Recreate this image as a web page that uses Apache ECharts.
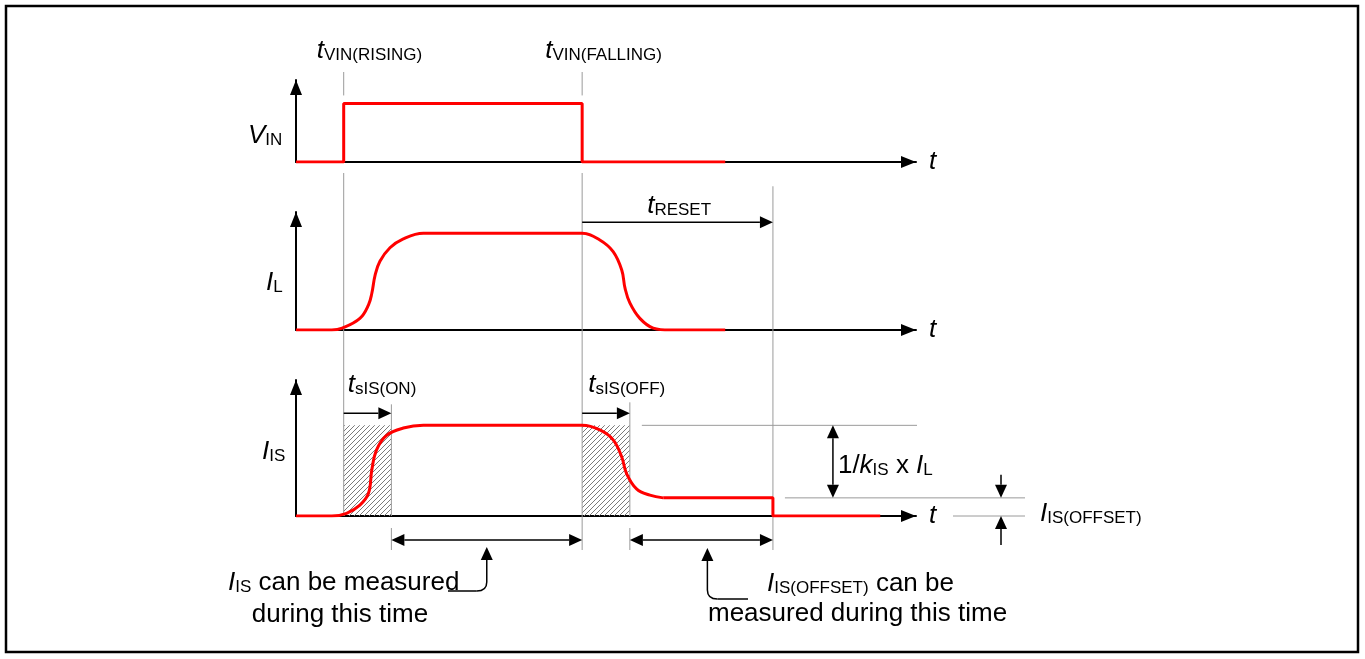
<!DOCTYPE html>
<html>
<head>
<meta charset="utf-8">
<script src="https://cdn.jsdelivr.net/npm/echarts@6/dist/echarts.min.js"></script>
<style>
  html, body { margin: 0; padding: 0; background: #fff; }
  #chart { width: 1365px; height: 659px; }
</style>
</head>
<body>
<div id="chart"></div>
<script>
// Time is in arbitrary units, levels are normalised so that the on-state = 1.
const T_RISE = 10;        // t VIN(RISING)
const T_FALL = 60;        // t VIN(FALLING)
const T_SIS_ON = 20;      // end of t sIS(ON)
const T_SIS_OFF = 70;     // end of t sIS(OFF)
const T_RESET_END = 100;  // end of t RESET
const OFFSET_LEVEL = 0.2; // I IS(OFFSET)

// V IN : input pulse
const vinTime  = [0, 10, 10, 60, 60, 90];
const vinLevel = [0, 0, 1, 1, 0, 0];

// I L : load current
const ilTime  = [0, 7.5, 9.7, 13.4, 15.2, 15.9, 16.6, 17.6, 19.7, 22.4, 26.7, 60, 63.7, 66.5, 68.3, 69.0, 70.0, 72.1, 74.9, 78.4, 90];
const ilLevel = [0, 0, 0.02, 0.12, 0.26, 0.38, 0.57, 0.71, 0.85, 0.94, 1, 1, 0.93, 0.81, 0.62, 0.43, 0.28, 0.12, 0.02, 0, 0];

// I IS : sense current (transition part)
const isTime  = [0, 7.5, 10.6, 13.4, 15.2, 15.9, 16.9, 19.0, 22.5, 26.7, 60, 63.7, 66.5, 68.3, 69.3, 71.4, 74.2, 77.0];
const isLevel = [0, 0, 0.03, 0.12, 0.25, 0.51, 0.73, 0.89, 0.97, 1, 1, 0.95, 0.84, 0.65, 0.47, 0.30, 0.23, 0.2];

// I IS : offset plateau and reset
const isTailTime  = [77.0, 100, 100, 122.5];
const isTailLevel = [0.2, 0.2, 0, 0];

const zip = (a, b) => a.map((v, i) => [v, b[i]]);

const FONT = '"Liberation Sans", Arial, sans-serif';
const RED = '#ff0000';
const BLACK = '#000000';
const GRAY = '#9a9a9a';

// diagonal hatch tile
const hatch = document.createElement('canvas');
hatch.width = 5; hatch.height = 5;
(function () {
  const c = hatch.getContext('2d');
  c.strokeStyle = '#7a7a7a';
  c.lineWidth = 1;
  c.beginPath();
  c.moveTo(-1, 6); c.lineTo(6, -1);
  c.moveTo(-1, 1); c.lineTo(1, -1);
  c.moveTo(4, 6); c.lineTo(6, 4);
  c.stroke();
})();

function xAx(i) {
  return {
    type: 'value', gridIndex: i, min: 0, max: 130,
    axisLine: { show: true, onZero: false, symbol: ['none', 'triangle'], symbolSize: [12, 15], symbolOffset: [0, -7.5],
      lineStyle: { color: BLACK, width: 2 } },
    axisTick: { show: false }, axisLabel: { show: false }, splitLine: { show: false },
    name: 't', nameLocation: 'end', nameGap: 13,
    nameTextStyle: { fontFamily: FONT, fontStyle: 'italic', fontSize: 26, color: BLACK }
  };
}
function yAx(i, max) {
  return {
    type: 'value', gridIndex: i, min: 0, max: max,
    axisLine: { show: true, onZero: false, symbol: ['none', 'triangle'], symbolSize: [12, 15], symbolOffset: [0, -7.5],
      lineStyle: { color: BLACK, width: 2 } },
    axisTick: { show: false }, axisLabel: { show: false }, splitLine: { show: false }
  };
}
function wave(i, data, smooth, extra) {
  return Object.assign({
    type: 'line', xAxisIndex: i, yAxisIndex: i, data: data, symbol: 'none', smooth: smooth,
    lineStyle: { color: RED, width: 3 }, z: 3, silent: true
  }, extra || {});
}

const chart = echarts.init(document.getElementById('chart'), null, { renderer: 'canvas' });
chart.setOption({
  animation: false,
  backgroundColor: '#fff',
  grid: [
    { left: 296, width: 620, top: 80, height: 82 },
    { left: 296, width: 620, top: 212, height: 118 },
    { left: 296, width: 620, top: 380, height: 136 }
  ],
  xAxis: [xAx(0), xAx(1), xAx(2)],
  yAxis: [yAx(0, 1.4), yAx(1, 1.22), yAx(2, 1.5)],
  series: [
    wave(0, zip(vinTime, vinLevel), false),
    wave(1, zip(ilTime, ilLevel), 0.4),
    wave(2, zip(isTime, isLevel), 0.4, {
      markArea: {
        silent: true,
        itemStyle: { color: { image: hatch, repeat: 'repeat' }, borderWidth: 0 },
        data: [
          [{ coord: [T_RISE, 0] }, { coord: [T_SIS_ON, 1] }],
          [{ coord: [T_FALL, 0] }, { coord: [T_SIS_OFF, 1] }]
        ]
      }
    }),
    wave(2, zip(isTailTime, isTailLevel), false)
  ]
});

// ---- annotations, placed from the axes' own scales ----
const px = t => chart.convertToPixel({ gridIndex: 0 }, [t, 0])[0];
const py = (g, v) => chart.convertToPixel({ gridIndex: g }, [0, v])[1];

const xRise = px(T_RISE), xFall = px(T_FALL), xOn = px(T_SIS_ON), xOff = px(T_SIS_OFF), xReset = px(T_RESET_END);
const yBase1 = py(0, 0), yHigh1 = py(0, 1);
const yBase2 = py(1, 0), yTop2 = py(1, 1);
const yBase3 = py(2, 0), yTop3 = py(2, 1), yOff = py(2, OFFSET_LEVEL);

const G = [];
function seg(x1, y1, x2, y2, color, w, z) {
  G.push({ type: 'line', silent: true, z: z || 1, shape: { x1: x1, y1: y1, x2: x2, y2: y2 },
    style: { stroke: color, lineWidth: w } });
}
const AL = 13, AW = 6;
function head(x, y, dir) {
  let p;
  if (dir === 'r') p = [[x, y], [x - AL, y - AW], [x - AL, y + AW]];
  else if (dir === 'l') p = [[x, y], [x + AL, y - AW], [x + AL, y + AW]];
  else if (dir === 'u') p = [[x, y], [x - AW, y + AL], [x + AW, y + AL]];
  else p = [[x, y], [x - AW, y - AL], [x + AW, y - AL]];
  G.push({ type: 'polygon', silent: true, z: 6, shape: { points: p }, style: { fill: BLACK } });
}

// gray guide lines
const yTopGuide = yBase1 - 90, yGap = yHigh1 - 8, yBelow1 = yBase1 + 11, yDimLow = yBase3 + 34;
seg(xRise, yTopGuide, xRise, yGap, GRAY, 1);
seg(xRise, yBelow1, xRise, yBase3, GRAY, 1);
seg(xFall, yTopGuide, xFall, yGap, GRAY, 1);
seg(xFall, yBelow1, xFall, yDimLow, GRAY, 1);
seg(xReset, yTop2 - 47, xReset, yDimLow, GRAY, 1);
seg(xOn, yTop3 - 21, xOn, yBase3, GRAY, 1);
seg(xOn, yBase3 + 12, xOn, yDimLow, GRAY, 1);
seg(xOff, yTop3 - 23, xOff, yBase3, GRAY, 1);
seg(xOff, yBase3 + 12, xOff, yDimLow, GRAY, 1);
seg(xOff + 12, yTop3, 917, yTop3, GRAY, 1);
seg(xReset + 12, yOff, 1025, yOff, GRAY, 1);
seg(953, yBase3, 1025, yBase3, GRAY, 1);

// timing arrows
const yReset = yTop2 - 11;
seg(xFall, yReset, xReset - AL, yReset, BLACK, 1.5, 5); head(xReset, yReset, 'r');
const ySis = yTop3 - 12;
seg(xRise, ySis, xOn - AL, ySis, BLACK, 1.5, 5); head(xOn, ySis, 'r');
seg(xFall, ySis, xOff - AL, ySis, BLACK, 1.5, 5); head(xOff, ySis, 'r');
const yMeas = yBase3 + 24;
seg(xOn + AL, yMeas, xFall - AL, yMeas, BLACK, 1.5, 5); head(xOn, yMeas, 'l'); head(xFall, yMeas, 'r');
seg(xOff + AL, yMeas, xReset - AL, yMeas, BLACK, 1.5, 5); head(xOff, yMeas, 'l'); head(xReset, yMeas, 'r');

// 1/kIS x IL span
const xK = xReset + 60;
seg(xK, yTop3 + AL, xK, yOff - AL, BLACK, 1.5, 5); head(xK, yTop3, 'u'); head(xK, yOff, 'd');

// offset span arrows
const xO = 1001;
seg(xO, yOff - 23, xO, yOff - AL, BLACK, 1.5, 5); head(xO, yOff, 'd');
seg(xO, yBase3 + 29, xO, yBase3 + AL, BLACK, 1.5, 5); head(xO, yBase3, 'u');

// pointer hooks
function hook(x, tipY, bendY, dirX, endX) {
  head(x, tipY, 'u');
  seg(x, tipY + AL, x, bendY - 9, BLACK, 1.5, 5);
  G.push({ type: 'bezierCurve', silent: true, z: 5,
    shape: { x1: x, y1: bendY - 9, x2: x + dirX * 10, y2: bendY, cpx1: x, cpy1: bendY },
    style: { stroke: BLACK, lineWidth: 1.5, fill: null } });
  seg(x + dirX * 10, bendY, endX, bendY, BLACK, 1.5, 5);
}
hook((xOn + xFall) / 2, yMeas + 7, yMeas + 51, -1, 448);
hook((xOff + xReset) / 2 + 6, yMeas + 8, yMeas + 59, 1, 748);

// text
const RICH = {
  i: { fontFamily: FONT, fontSize: 26, fontStyle: 'italic', lineHeight: 30, verticalAlign: 'bottom', color: BLACK },
  n: { fontFamily: FONT, fontSize: 26, lineHeight: 30, verticalAlign: 'bottom', color: BLACK },
  s: { fontFamily: FONT, fontSize: 17, lineHeight: 16, verticalAlign: 'bottom', color: BLACK }
};
function label(x, baseline, text, align) {
  G.push({ type: 'text', silent: true, z: 7, x: x, y: baseline + 6,
    style: { text: text, rich: RICH, align: align || 'left', verticalAlign: 'bottom',
      fontFamily: FONT, fontSize: 26, fill: BLACK } });
}
label(xRise - 27, 58, '{i|t}{s|VIN(RISING)}');
label(xFall - 37, 58, '{i|t}{s|VIN(FALLING)}');
label(xFall + 65, 213, '{i|t}{s|RESET}');
label(xRise + 4, 392, '{i|t}{s|sIS(ON)}');
label(xFall + 6, 392, '{i|t}{s|sIS(OFF)}');
label(xK + 5, 473, '{n|1/}{i|k}{s|IS}{n| x }{i|I}{s|L}');
label(1040, 521, '{i|I}{s|IS(OFFSET)}');
label(248, 143, '{i|V}{s|IN}');
label(266, 290, '{i|I}{s|L}');
label(262, 459, '{i|I}{s|IS}');
label(228, 590, '{i|I}{s|IS}{n| can be measured}');
label(340, 622, '{n|during this time}', 'center');
label(767, 591, '{i|I}{s|IS(OFFSET)}{n| can be}');
label(708, 621, '{n|measured during this time}');

// outer frame
G.push({ type: 'rect', silent: true, z: 0, shape: { x: 6, y: 6, width: 1352, height: 646 },
  style: { stroke: BLACK, lineWidth: 2.5, fill: null } });

chart.setOption({ graphic: G });
</script>
</body>
</html>
